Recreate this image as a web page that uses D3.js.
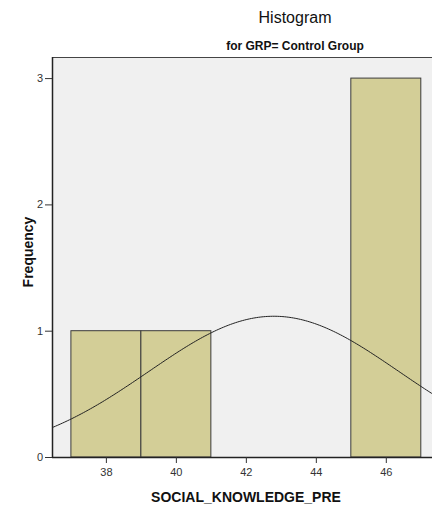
<!DOCTYPE html>
<html>
<head>
<meta charset="utf-8">
<script src="https://cdn.jsdelivr.net/npm/d3@7"></script>
<style>
  html, body { margin: 0; padding: 0; background: #fff; }
  svg { display: block; font-family: "Liberation Sans", Arial, sans-serif; }
</style>
</head>
<body>
<div id="chart"></div>
<script>
// histogram bins (lower edge, upper edge, count)
const binStarts = [37, 39, 45];
const binEnds = [39, 41, 47];
const counts = [1, 1, 3];
const xTicks = [38, 40, 42, 44, 46];
const yTicks = [0, 1, 2, 3];

// fitted normal curve
const curveMean = 42.8;
const curveSD = 3.58;
const curveN = 5;
const binWidth = 2;

const width = 432, height = 515;
const margin = { top: 57, left: 52, bottom: 58 };

const svg = d3.select('#chart')
  .append('svg')
  .attr('width', width)
  .attr('height', height);

const x = d3.scaleLinear()
  .domain([36.46, 47.32])
  .range([margin.left, width]);

const y = d3.scaleLinear()
  .domain([0, 3.167])
  .range([height - margin.bottom, margin.top]);

// plot background
svg.append('rect')
  .attr('x', margin.left)
  .attr('y', margin.top)
  .attr('width', width - margin.left)
  .attr('height', y(0) - margin.top)
  .attr('fill', '#f0f0f0');

// bars
svg.append('g')
  .selectAll('rect')
  .data(counts)
  .join('rect')
  .attr('x', (d, i) => x(binStarts[i]))
  .attr('y', d => y(d))
  .attr('width', (d, i) => x(binEnds[i]) - x(binStarts[i]))
  .attr('height', d => y(0) - y(d))
  .attr('fill', '#d3ce97')
  .attr('stroke', '#3c3c3c')
  .attr('stroke-width', 1);

// normal curve
const pdf = v => curveN * binWidth / (curveSD * Math.sqrt(2 * Math.PI)) *
  Math.exp(-0.5 * Math.pow((v - curveMean) / curveSD, 2));
const curveX = d3.range(x.domain()[0], x.domain()[1] + 0.05, 0.05);

svg.append('path')
  .datum(curveX)
  .attr('fill', 'none')
  .attr('stroke', '#222')
  .attr('stroke-width', 1)
  .attr('d', d3.line().x(d => x(d)).y(d => y(pdf(d))));

// frame top line
svg.append('line')
  .attr('x1', margin.left).attr('x2', width)
  .attr('y1', margin.top + 0.5).attr('y2', margin.top + 0.5)
  .attr('stroke', '#444');

// axes
const xAxis = d3.axisBottom(x).tickValues(xTicks).tickSize(6).tickPadding(5);
const yAxis = d3.axisLeft(y).tickValues(yTicks).tickSize(7).tickPadding(2)
  .tickFormat(d3.format('d'));

const gx = svg.append('g')
  .attr('transform', `translate(0,${y(0)})`)
  .call(xAxis);
const gy = svg.append('g')
  .attr('transform', `translate(${margin.left},0)`)
  .call(yAxis);

[gx, gy].forEach(g => {
  g.select('.domain').attr('stroke', '#222').attr('stroke-width', 1.5);
  g.selectAll('.tick line').attr('stroke', '#333');
  g.selectAll('.tick text')
    .attr('fill', '#333')
    .style('font-size', '11px')
    .style('font-family', '"Liberation Sans", Arial, sans-serif');
});
gx.select('.domain').attr('d', `M${margin.left},0.5H${width}`);
gy.select('.domain').attr('d', `M0.5,${margin.top}V${y(0)}`);

// titles
svg.append('text')
  .attr('x', 295).attr('y', 23)
  .attr('text-anchor', 'middle')
  .style('font-size', '16px')
  .attr('fill', '#111')
  .text('Histogram');

svg.append('text')
  .attr('x', 295).attr('y', 50)
  .attr('text-anchor', 'middle')
  .style('font-size', '12px')
  .style('font-weight', 'bold')
  .attr('fill', '#111')
  .text('for GRP= Control Group');

svg.append('text')
  .attr('x', 246).attr('y', 502)
  .attr('text-anchor', 'middle')
  .style('font-size', '14px')
  .style('font-weight', 'bold')
  .attr('fill', '#111')
  .text('SOCIAL_KNOWLEDGE_PRE');

svg.append('text')
  .attr('transform', 'translate(33,252) rotate(-90)')
  .attr('text-anchor', 'middle')
  .style('font-size', '14px')
  .style('font-weight', 'bold')
  .attr('fill', '#111')
  .text('Frequency');
</script>
</body>
</html>
